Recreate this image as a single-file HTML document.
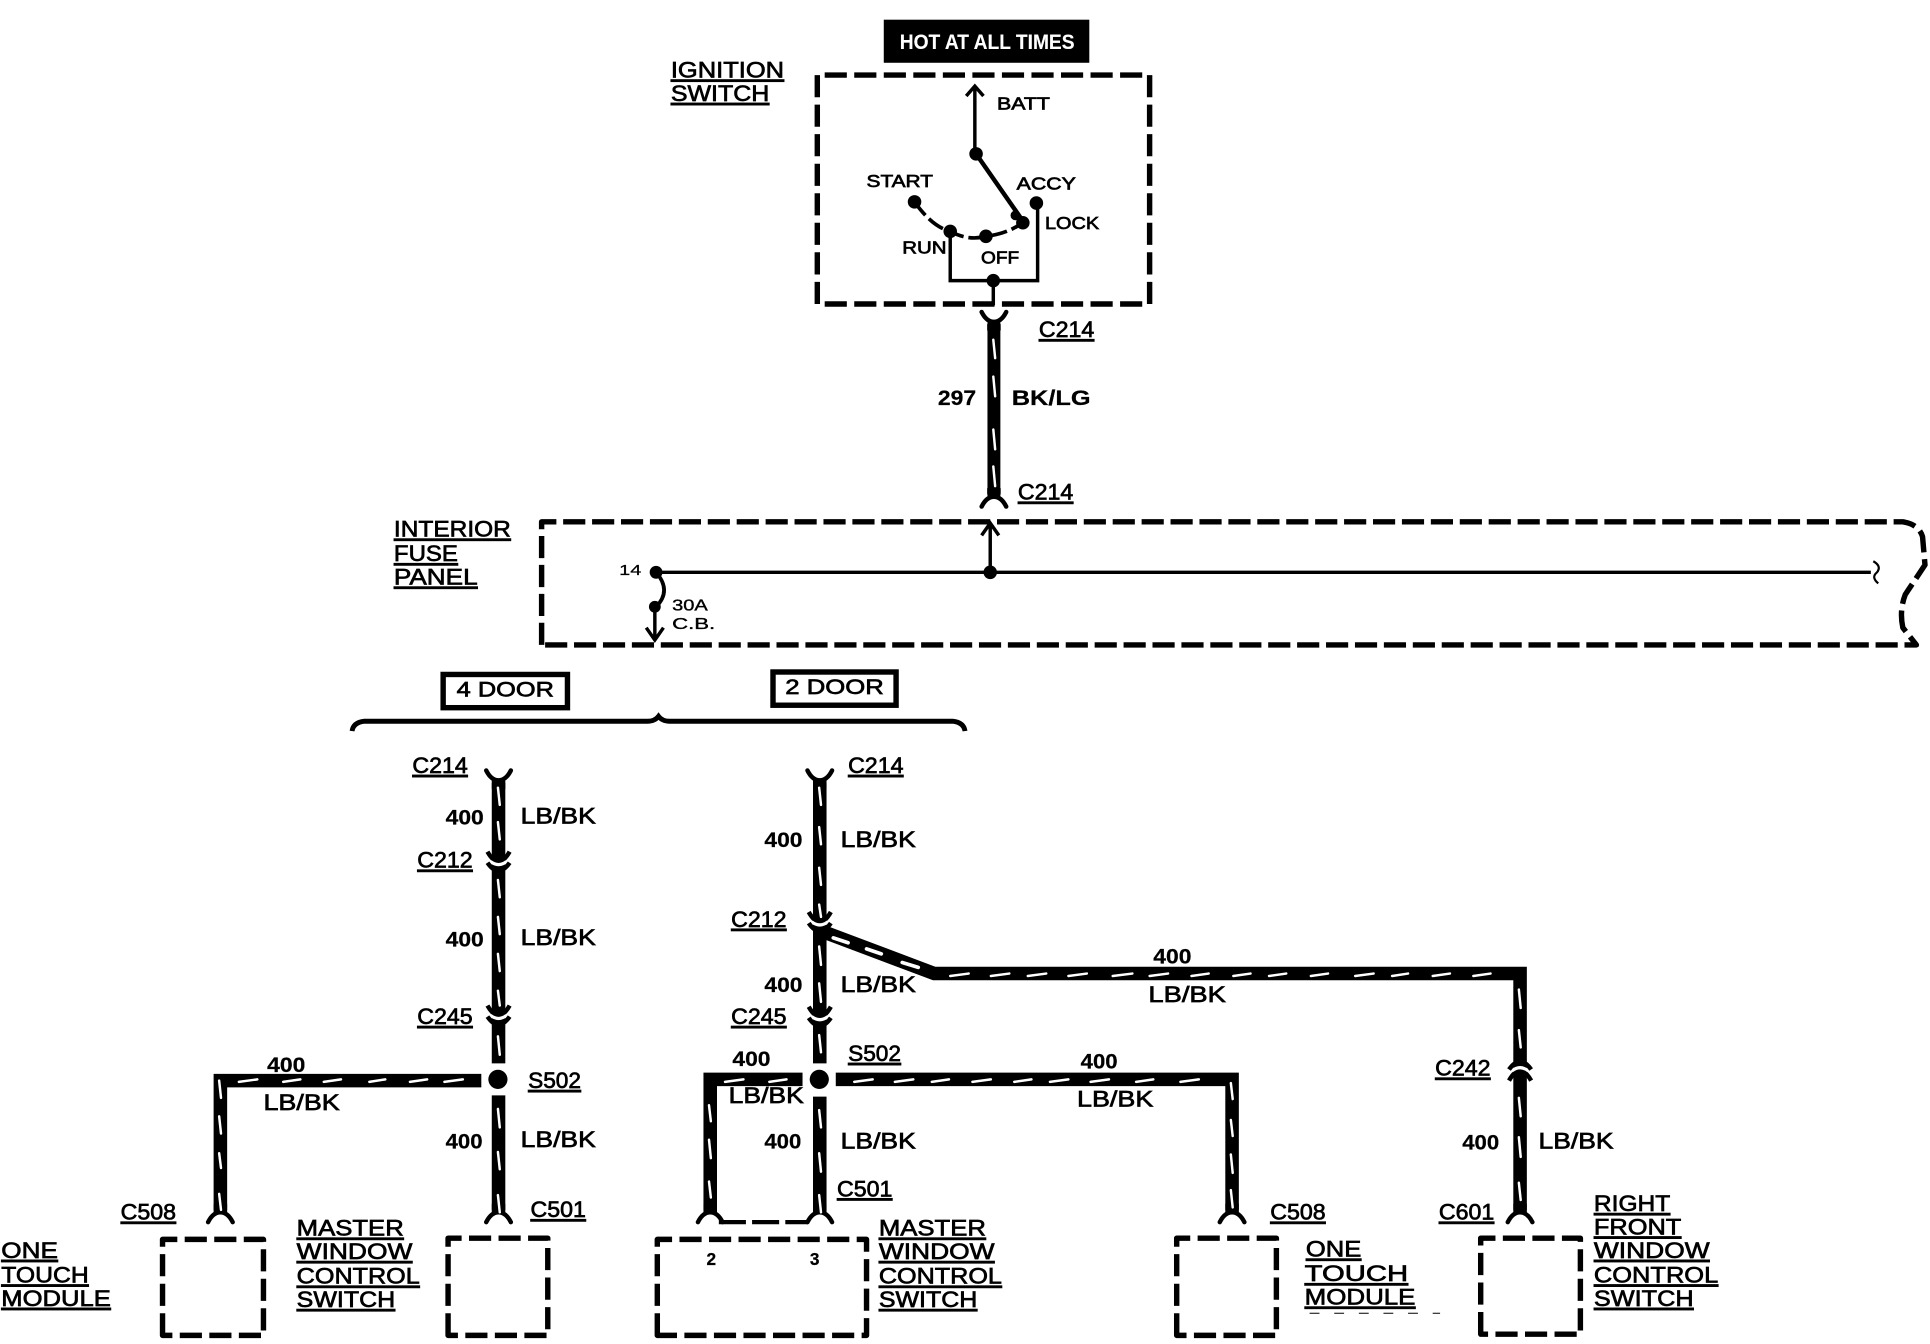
<!DOCTYPE html>
<html><head><meta charset="utf-8"><style>
html,body{margin:0;padding:0;background:#fff}
svg{display:block}
text{font-family:"Liberation Sans",sans-serif;fill:#000;stroke:#000;stroke-width:.55;font-size:17px}
.u{text-decoration:underline;text-decoration-thickness:2px;text-underline-offset:1.5px;font-size:18px}
.n{font-weight:bold;font-size:17px;stroke-width:.2}
.w{font-size:18px}
.s{font-size:14px}
.b{fill:none;stroke:#000;stroke-width:4.4;stroke-dasharray:18 6;stroke-linejoin:round}
.t{fill:none;stroke:#000;stroke-width:2.8}
.wire{fill:none;stroke:#000;stroke-width:11}
.d{fill:none;stroke:#fff;stroke-width:2;stroke-linecap:round}
</style></head><body>
<svg xmlns="http://www.w3.org/2000/svg" width="1930" height="1344" viewBox="0 0 1568 1092">
<defs>
<g id="f"><path d="M-10 6Q-6 -2 0 -2Q6 -2 10 6" fill="none" stroke="#000" stroke-width="3.6" stroke-linecap="round"/><path d="M-5.500 -9H5.500V-4L0 -1L-5.500 -4Z" fill="#000"/></g>
<g id="m"><path d="M-9 -9Q0 7 9 -9" fill="none" stroke="#000" stroke-width="3.6"/><path d="M-6.500 -1Q0 4 6.500 -1" fill="none" stroke="#fff" stroke-width="2.6"/><path d="M-9 0Q0 13 9 0" fill="none" stroke="#000" stroke-width="3.6"/></g>
</defs>
<rect width="1568" height="1092" fill="#fff"/>

<!-- hot box -->
<rect x="718" y="16" width="167" height="35" fill="#000"/>
<text x="731" y="40" textLength="142" lengthAdjust="spacingAndGlyphs" style="fill:#fff;stroke:#fff;font-size:17px;font-weight:bold;stroke-width:.1">HOT AT ALL TIMES</text>

<text class="u" x="545" y="63" textLength="92" lengthAdjust="spacingAndGlyphs">IGNITION</text>
<text class="u" x="545" y="82" textLength="80" lengthAdjust="spacingAndGlyphs">SWITCH</text>

<!-- ignition switch -->
<path class="b" d="M664 247V61H934V247Z"/>
<path class="t" d="M792 125V71M785 78L792 70L799 78"/>
<path d="M793 125L832 181" fill="none" stroke="#000" stroke-width="3.6"/>
<path d="M743 164Q757 184 772 188Q787 196 801 192Q818 190 831 181" fill="none" stroke="#000" stroke-width="3" stroke-dasharray="14 4"/>
<path class="t" d="M772 188V228H843V165M807 228V248"/>
<circle cx="793" cy="125" r="5.500"/><circle cx="743" cy="164" r="5.500"/><circle cx="772" cy="188" r="5.500"/><circle cx="801" cy="192" r="5.500"/><circle cx="825" cy="175" r="4"/><circle cx="831" cy="181" r="5.500"/><circle cx="842" cy="165" r="5.500"/><circle cx="807" cy="228" r="5.500"/>
<text class="s" x="810" y="89" textLength="43" lengthAdjust="spacingAndGlyphs">BATT</text>
<text class="s" x="704" y="152" textLength="54" lengthAdjust="spacingAndGlyphs">START</text>
<text class="s" x="826" y="154" textLength="48" lengthAdjust="spacingAndGlyphs">ACCY</text>
<text class="s" x="849" y="186" textLength="44" lengthAdjust="spacingAndGlyphs">LOCK</text>
<text class="s" x="733" y="206" textLength="36" lengthAdjust="spacingAndGlyphs">RUN</text>
<text class="s" x="797" y="214" textLength="31" lengthAdjust="spacingAndGlyphs">OFF</text>

<!-- wire 297 -->
<path class="wire" d="M807.500 262V404" style="stroke-width:10.500"/>
<use href="#f" transform="translate(807.500 259.500) scale(1 -1)"/>
<use href="#f" transform="translate(807.500 405.600)"/>
<path class="d" d="M807 276l1.500 15M807 306l1.500 16M807 349l1.500 16M807 379l1.500 16"/>
<text class="n" x="762" y="329" textLength="31" lengthAdjust="spacingAndGlyphs">297</text>
<text class="n" x="822" y="329" textLength="64" lengthAdjust="spacingAndGlyphs">BK/LG</text>
<text class="u" x="844" y="274" textLength="45" lengthAdjust="spacingAndGlyphs">C214</text>
<text class="u" x="827" y="406" textLength="45" lengthAdjust="spacingAndGlyphs">C214</text>

<!-- interior fuse panel -->
<text class="u" x="320" y="436" textLength="95" lengthAdjust="spacingAndGlyphs">INTERIOR</text>
<text class="u" x="320" y="456" textLength="52" lengthAdjust="spacingAndGlyphs">FUSE</text>
<text class="u" x="320" y="475" textLength="68" lengthAdjust="spacingAndGlyphs">PANEL</text>
<path class="b" d="M440 524V424H1546Q1559 426 1562 436L1564 459L1548 483Q1543 496 1546 510L1557 524Z" style="stroke-dasharray:18 5.500"/>
<path class="t" d="M532 465H1520M804.500 465V426M797.500 435L804.500 425L811.500 435M532 493V519M525 510L532 520L539 510"/>
<path d="M533 465Q546 480 533 493" fill="none" stroke="#000" stroke-width="3"/>
<path d="M1522 456Q1529 460 1525 465Q1520 469 1526 474" fill="none" stroke="#000" stroke-width="1.800"/>
<circle cx="533" cy="465" r="5.200"/><circle cx="804.500" cy="465" r="5.500"/><circle cx="532" cy="493" r="4.800"/>
<text x="503" y="467" textLength="18" lengthAdjust="spacingAndGlyphs" style="font-size:12px;stroke-width:.2">14</text>
<text x="546" y="496" textLength="29" lengthAdjust="spacingAndGlyphs" style="font-size:13px;stroke-width:.3">30A</text>
<text x="546" y="511" textLength="35" lengthAdjust="spacingAndGlyphs" style="font-size:13px;stroke-width:.3">C.B.</text>

<!-- door tags -->
<rect x="360" y="548" width="101" height="27" fill="none" stroke="#000" stroke-width="4.400"/>
<rect x="628" y="546" width="100" height="27" fill="none" stroke="#000" stroke-width="4.400"/>
<text x="371" y="566" textLength="79" lengthAdjust="spacingAndGlyphs">4 DOOR</text>
<text x="638" y="564" textLength="80" lengthAdjust="spacingAndGlyphs">2 DOOR</text>
<path d="M286 594Q287 587 296 586H526Q532 586 535 582Q538 586 544 586H774Q783 587 784 594" fill="none" stroke="#000" stroke-width="4"/>

<!-- 4 door wires -->
<path class="wire" d="M405 634V864M405 890V985M391 878H179V985"/>
<use href="#f" transform="translate(405 632) scale(1 -1)"/>
<use href="#m" transform="translate(405 701)"/>
<use href="#m" transform="translate(405 826)"/>
<use href="#f" transform="translate(179 987)"/>
<use href="#f" transform="translate(405 987)"/>
<circle cx="404.500" cy="877" r="7.800"/>
<path class="d" d="M404.500 640l1.500 14M404.500 668l1.500 14M404.500 715l1.500 14M404.500 745l1.500 14M404.500 775l1.500 14M404.500 805l1.500 12M404.500 842l1.500 15M404.500 901l1.500 15M404.500 936l1.500 14M404.500 971l1.500 14"/>
<path class="d" d="M178 878l1.500 14M178 907l1.500 14M178 937l1.500 12M178 970l1.500 13"/>
<path class="d" d="M194 879l15 -2M230 879l14 -2M263 879l14 -2M300 879l13 -2M333 879l14 -2M361 879l15 -2"/>
<text class="u" x="335" y="628" textLength="45" lengthAdjust="spacingAndGlyphs">C214</text>
<text class="n" x="362" y="670" textLength="31" lengthAdjust="spacingAndGlyphs">400</text>
<text class="w" x="423" y="669" textLength="61" lengthAdjust="spacingAndGlyphs">LB/BK</text>
<text class="u" x="339" y="705" textLength="45" lengthAdjust="spacingAndGlyphs">C212</text>
<text class="n" x="362" y="769" textLength="31" lengthAdjust="spacingAndGlyphs">400</text>
<text class="w" x="423" y="768" textLength="61" lengthAdjust="spacingAndGlyphs">LB/BK</text>
<text class="u" x="339" y="832" textLength="45" lengthAdjust="spacingAndGlyphs">C245</text>
<text class="u" x="429" y="884" textLength="43" lengthAdjust="spacingAndGlyphs">S502</text>
<text class="n" x="217" y="871" textLength="31" lengthAdjust="spacingAndGlyphs">400</text>
<text class="w" x="214" y="902" textLength="62" lengthAdjust="spacingAndGlyphs">LB/BK</text>
<text class="n" x="362" y="933" textLength="30" lengthAdjust="spacingAndGlyphs">400</text>
<text class="w" x="423" y="932" textLength="61" lengthAdjust="spacingAndGlyphs">LB/BK</text>
<text class="u" x="98" y="991" textLength="45" lengthAdjust="spacingAndGlyphs">C508</text>
<text class="u" x="431" y="989" textLength="45" lengthAdjust="spacingAndGlyphs">C501</text>
<text class="u" x="1" y="1022" textLength="46" lengthAdjust="spacingAndGlyphs">ONE</text>
<text class="u" x="1" y="1042" textLength="71" lengthAdjust="spacingAndGlyphs">TOUCH</text>
<text class="u" x="1" y="1061" textLength="89" lengthAdjust="spacingAndGlyphs">MODULE</text>
<text class="u" x="241" y="1004" textLength="87" lengthAdjust="spacingAndGlyphs">MASTER</text>
<text class="u" x="241" y="1023" textLength="94" lengthAdjust="spacingAndGlyphs">WINDOW</text>
<text class="u" x="241" y="1043" textLength="100" lengthAdjust="spacingAndGlyphs">CONTROL</text>
<text class="u" x="241" y="1062" textLength="80" lengthAdjust="spacingAndGlyphs">SWITCH</text>

<!-- module boxes -->
<path class="b" d="M132 1085V1007H214V1085Z"/>
<path class="b" d="M364 1085V1006H445V1085Z"/>
<path class="b" d="M534 1085V1007H704V1085Z"/>
<path class="b" d="M956 1085V1006H1037V1085Z"/>
<path class="b" d="M1203 1084V1006H1284V1084Z"/>

<!-- 2 door wires -->
<path class="wire" d="M666 634V864M666 891V985M652 877H577V985M679 877H1001V985"/>
<path class="wire" d="M666 756L759 791H1235V985"/>
<use href="#f" transform="translate(666 632) scale(1 -1)"/>
<use href="#m" transform="translate(666 750)"/>
<use href="#m" transform="translate(666 827)"/>
<use href="#f" transform="translate(577 987)"/>
<use href="#f" transform="translate(666 987)"/>
<use href="#f" transform="translate(1001 987)"/>
<use href="#f" transform="translate(1235 987)"/>
<g transform="translate(1235 869) scale(1 -1)"><use href="#m"/></g>
<path d="M584 993H656" fill="none" stroke="#000" stroke-width="3.400" stroke-dasharray="22 5"/>
<circle cx="665.600" cy="877" r="7.800"/>
<path class="d" d="M665.500 640l1.500 14M665.500 672l1.500 14M665.500 705l1.500 14M665.500 735l1.500 10M665.500 769l1.500 15M665.500 799l1.500 15M665.500 841l1.500 14M665.500 902l1.500 14M665.500 937l1.500 15M665.500 971l1.500 14"/>
<path class="d" d="M576 898l1.500 13M576 926l1.500 15M576 960l1.500 13"/>
<path class="d" d="M1000 880l1.500 13M1000 910l1.500 13M1000 938l1.500 15M1000 967l1.500 14"/>
<path class="d" d="M1234 804l1.500 15M1234 837l1.500 14M1234 892l1.500 15M1234 924l1.500 16M1234 961l1.500 14"/>
<path class="d" d="M589 879l15 -2M625 879l14 -2M694 879l15 -2M727 879l15 -2M757 879l14 -2M790 879l15 -2M824 879l14 -2M853 879l15 -2M886 879l15 -2M923 879l14 -2M959 879l15 -2"/>
<path class="d" d="M772 793l15 -2M805 793l15 -2M835 793l15 -2M868 793l15 -2M904 793l16 -2M934 793l15 -2M968 793l14 -2M1002 793l14 -2M1031 793l14 -2M1065 793l14 -2M1101 793l15 -2M1131 793l13 -2M1164 793l14 -2M1197 793l14 -2"/>
<path class="d" style="stroke-width:3" d="M677 762l12 4M704 771l12 4M733 782l13 4"/>
<text class="u" x="689" y="628" textLength="45" lengthAdjust="spacingAndGlyphs">C214</text>
<text class="n" x="621" y="688" textLength="31" lengthAdjust="spacingAndGlyphs">400</text>
<text class="w" x="683" y="688" textLength="61" lengthAdjust="spacingAndGlyphs">LB/BK</text>
<text class="u" x="594" y="753" textLength="45" lengthAdjust="spacingAndGlyphs">C212</text>
<text class="n" x="621" y="806" textLength="31" lengthAdjust="spacingAndGlyphs">400</text>
<text class="w" x="683" y="806" textLength="61" lengthAdjust="spacingAndGlyphs">LB/BK</text>
<text class="u" x="594" y="832" textLength="45" lengthAdjust="spacingAndGlyphs">C245</text>
<text class="u" x="689" y="862" textLength="43" lengthAdjust="spacingAndGlyphs">S502</text>
<text class="n" x="595" y="866" textLength="31" lengthAdjust="spacingAndGlyphs">400</text>
<text class="w" x="592" y="896" textLength="61" lengthAdjust="spacingAndGlyphs">LB/BK</text>
<text class="n" x="878" y="868" textLength="30" lengthAdjust="spacingAndGlyphs">400</text>
<text class="w" x="875" y="899" textLength="62" lengthAdjust="spacingAndGlyphs">LB/BK</text>
<text class="n" x="937" y="783" textLength="31" lengthAdjust="spacingAndGlyphs">400</text>
<text class="w" x="933" y="814" textLength="63" lengthAdjust="spacingAndGlyphs">LB/BK</text>
<text class="n" x="621" y="933" textLength="30" lengthAdjust="spacingAndGlyphs">400</text>
<text class="w" x="683" y="933" textLength="61" lengthAdjust="spacingAndGlyphs">LB/BK</text>
<text class="u" x="680" y="972" textLength="45" lengthAdjust="spacingAndGlyphs">C501</text>
<text class="n" x="574" y="1028" style="font-size:14px">2</text>
<text class="n" x="658" y="1028" style="font-size:14px">3</text>
<text class="u" x="714" y="1004" textLength="87" lengthAdjust="spacingAndGlyphs">MASTER</text>
<text class="u" x="714" y="1023" textLength="94" lengthAdjust="spacingAndGlyphs">WINDOW</text>
<text class="u" x="714" y="1043" textLength="100" lengthAdjust="spacingAndGlyphs">CONTROL</text>
<text class="u" x="714" y="1062" textLength="80" lengthAdjust="spacingAndGlyphs">SWITCH</text>
<text class="u" x="1032" y="991" textLength="45" lengthAdjust="spacingAndGlyphs">C508</text>
<text class="u" x="1061" y="1021" textLength="45" lengthAdjust="spacingAndGlyphs">ONE</text>
<text class="u" x="1060" y="1041" textLength="84" lengthAdjust="spacingAndGlyphs">TOUCH</text>
<text class="u" x="1060" y="1060" textLength="90" lengthAdjust="spacingAndGlyphs">MODULE</text>
<path d="M1064 1067H1170" fill="none" stroke="#000" stroke-width=".8" stroke-dasharray="8 12"/>
<text class="u" x="1166" y="874" textLength="45" lengthAdjust="spacingAndGlyphs">C242</text>
<text class="n" x="1188" y="934" textLength="30" lengthAdjust="spacingAndGlyphs">400</text>
<text class="w" x="1250" y="933" textLength="61" lengthAdjust="spacingAndGlyphs">LB/BK</text>
<text class="u" x="1169" y="991" textLength="45" lengthAdjust="spacingAndGlyphs">C601</text>
<text class="u" x="1295" y="984" textLength="62" lengthAdjust="spacingAndGlyphs">RIGHT</text>
<text class="u" x="1295" y="1003" textLength="71" lengthAdjust="spacingAndGlyphs">FRONT</text>
<text class="u" x="1295" y="1022" textLength="94" lengthAdjust="spacingAndGlyphs">WINDOW</text>
<text class="u" x="1295" y="1042" textLength="101" lengthAdjust="spacingAndGlyphs">CONTROL</text>
<text class="u" x="1295" y="1061" textLength="81" lengthAdjust="spacingAndGlyphs">SWITCH</text>
</svg>
</body></html>
